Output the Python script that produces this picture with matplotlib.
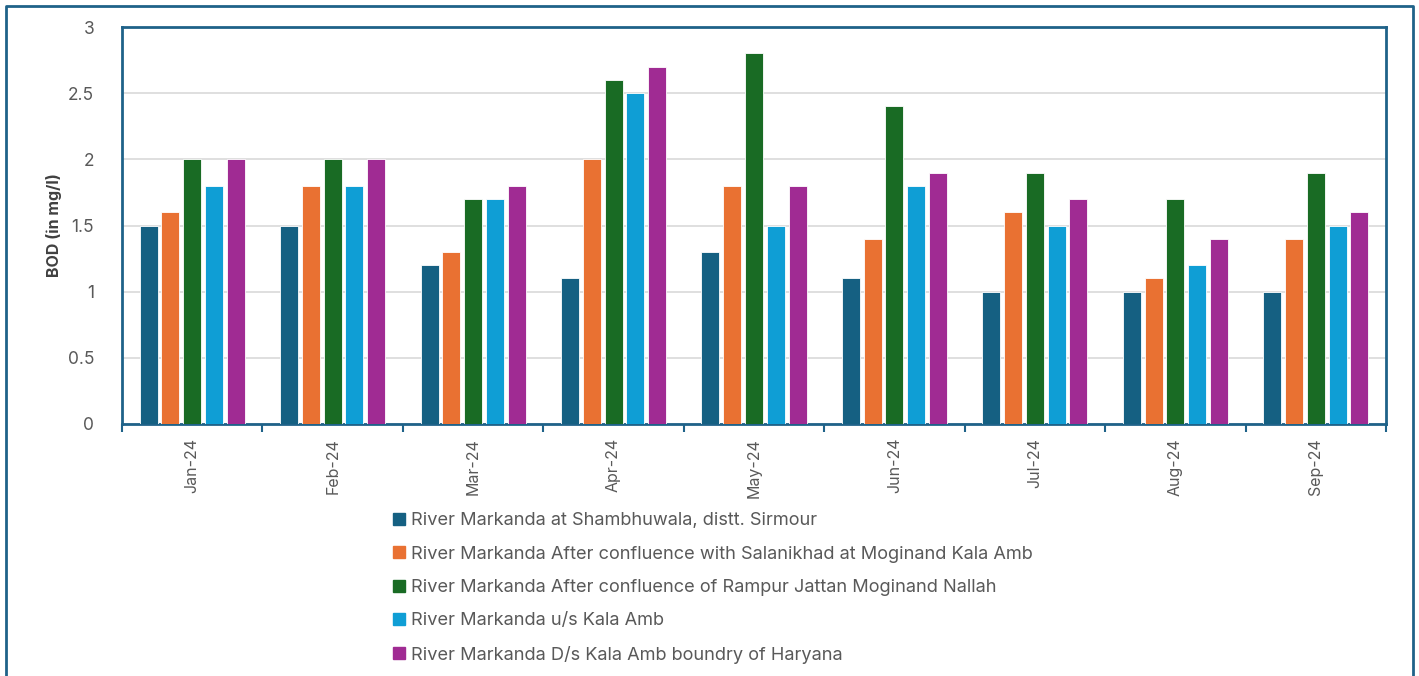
import matplotlib
matplotlib.use("Agg")
import matplotlib.pyplot as plt
import numpy as np
from matplotlib.lines import Line2D

months = ["Jan-24", "Feb-24", "Mar-24", "Apr-24", "May-24", "Jun-24", "Jul-24", "Aug-24", "Sep-24"]
series_names = [
    "River Markanda at Shambhuwala, distt. Sirmour",
    "River Markanda After confluence with Salanikhad at Moginand Kala Amb",
    "River Markanda After confluence of Rampur Jattan Moginand Nallah",
    "River Markanda u/s Kala Amb",
    "River Markanda D/s Kala Amb boundry of Haryana",
]
shambhuwala = [1.5, 1.5, 1.2, 1.1, 1.3, 1.1, 1.0, 1.0, 1.0]
salanikhad = [1.6, 1.8, 1.3, 2.0, 1.8, 1.4, 1.6, 1.1, 1.4]
rampur = [2.0, 2.0, 1.7, 2.6, 2.8, 2.4, 1.9, 1.7, 1.9]
us_kala_amb = [1.8, 1.8, 1.7, 2.5, 1.5, 1.8, 1.5, 1.2, 1.5]
ds_kala_amb = [2.0, 2.0, 1.8, 2.7, 1.8, 1.9, 1.7, 1.4, 1.6]
all_series = [shambhuwala, salanikhad, rampur, us_kala_amb, ds_kala_amb]
colors = ["#156082", "#E97132", "#196B24", "#0F9ED5", "#A02B93"]

plt.rcParams['font.family'] = ['Inter', 'DejaVu Sans']
spine_col = "#1F6289"
text_col = "#595959"

fig = plt.figure(figsize=(14.19, 6.76), dpi=100)
ax = fig.add_axes([122/1419, 1-424/676, (1386-122)/1419, (424-27)/676])

x = np.arange(len(months))
pitch = 0.155
width = 0.128
for i, (vals, c, name) in enumerate(zip(all_series, colors, series_names)):
    ax.bar(x + (i - 2) * pitch, vals, width=width, color=c, edgecolor="white",
           linewidth=0.6, label=name, zorder=3)

ax.set_xlim(-0.5, len(months) - 0.5)
ax.set_ylim(0, 3)
ax.set_yticks(np.arange(0, 3.01, 0.5))
ax.set_yticklabels(["0", "0.5", "1", "1.5", "2", "2.5", "3"])
ax.yaxis.grid(True, color="#D9D9D9", linewidth=1.2, zorder=0)
ax.set_axisbelow(True)
ax.tick_params(axis="y", length=0, pad=20, labelsize=12.5, labelcolor=text_col)
ax.set_xticks(x)
ax.set_xticklabels(months, rotation=90)
ax.tick_params(axis="x", which="major", length=0, pad=10, labelsize=11.5, labelcolor=text_col)
ax.set_xticks(np.arange(-0.5, len(months)), minor=True)
ax.tick_params(axis="x", which="minor", length=6, width=1.5, color=spine_col, direction="out")
for s in ax.spines.values():
    s.set_color(spine_col)
    s.set_linewidth(2)

ax.set_ylabel("BOD (in mg/l)", fontsize=11.5, fontweight="bold", color="#404040", labelpad=4)

handles = [Line2D([0], [0], marker="s", linestyle="none", markersize=9,
                  markerfacecolor=c, markeredgecolor=c) for c in colors]
fig.legend(handles, series_names, loc="upper left", bbox_to_anchor=(383/1419, 1-505/676),
           frameon=False, fontsize=13.1, labelcolor=text_col, handletextpad=0.15,
           handlelength=1.0, labelspacing=0.9, borderaxespad=0)

# outer frame (left, top, right)
fx0, fx1, fy1 = 5.5/1419, 1413/1419, 1-5.5/676
fig.add_artist(Line2D([fx0, fx0, fx1, fx1], [0, fy1, fy1, 0], transform=fig.transFigure,
                      color=spine_col, linewidth=2))

fig.savefig("out.png", dpi=100)
